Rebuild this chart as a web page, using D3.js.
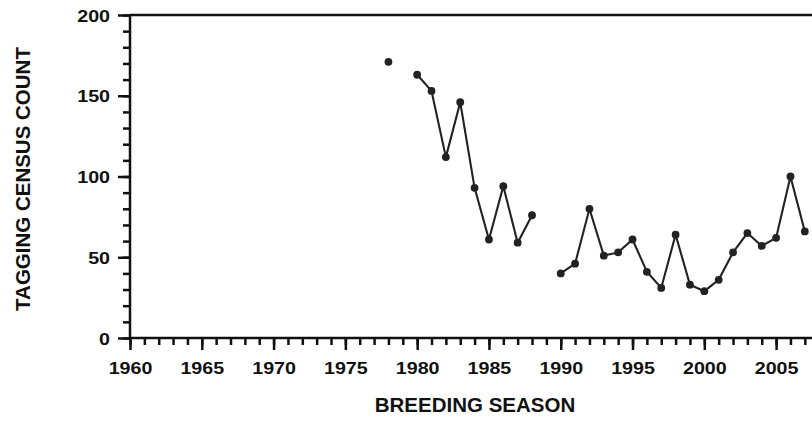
<!DOCTYPE html>
<html>
<head>
<meta charset="utf-8">
<script src="https://cdn.jsdelivr.net/npm/d3@7"></script>
<style>
  body { margin: 0; background: #fff; }
  text { font-family: "Liberation Sans", Arial, sans-serif; font-weight: bold; fill: #111; }
</style>
</head>
<body>
<script>
// breeding seasons and counts (null = no census that year)
var years = [1978, 1979, 1980, 1981, 1982, 1983, 1984, 1985, 1986, 1987, 1988, 1989,
             1990, 1991, 1992, 1993, 1994, 1995, 1996, 1997, 1998, 1999, 2000,
             2001, 2002, 2003, 2004, 2005, 2006, 2007];
var counts = [171, null, 163, 153, 112, 146, 93, 61, 94, 59, 76, null,
              40, 46, 80, 51, 53, 61, 41, 31, 64, 33, 29,
              36, 53, 65, 57, 62, 100, 66];
var xMajorTicks = [1960, 1965, 1970, 1975, 1980, 1985, 1990, 1995, 2000, 2005];
var yMajorTicks = [0, 50, 100, 150, 200];

var w = 812, h = 421;
var plotLeft = 130, plotRight = 812, plotTop = 15, plotBottom = 338;

var data = years.map(function(yr, i) { return { year: yr, value: counts[i] }; });

var x = d3.scaleLinear().domain([1960, 2007.5]).range([plotLeft, plotRight]);
var y = d3.scaleLinear().domain([0, 200]).range([plotBottom, plotTop]);

var svg = d3.select("body").append("svg")
    .attr("width", w)
    .attr("height", h);

var ink = "#111";

// minor ticks
var xMinor = d3.axisBottom(x).tickValues(d3.range(1960, 2008)).tickSize(7).tickFormat("");
var yMinor = d3.axisLeft(y).tickValues(d3.range(0, 201, 10)).tickSize(7).tickFormat("");
// major ticks with labels
var xMajor = d3.axisBottom(x).tickValues(xMajorTicks).tickSize(12).tickFormat(d3.format("d"));
var yMajor = d3.axisLeft(y).tickValues(yMajorTicks).tickSize(12).tickFormat(d3.format("d"));

function styleAxis(g) {
  g.select(".domain").remove();
  g.attr("font-family", null).attr("font-size", null);
  g.selectAll("line").attr("stroke", ink).attr("stroke-width", 2.5);
}

svg.append("g").attr("transform", "translate(0," + plotBottom + ")").call(xMinor).call(styleAxis);
svg.append("g").attr("transform", "translate(" + plotLeft + ",0)").call(yMinor).call(styleAxis);

var gx = svg.append("g").attr("transform", "translate(0," + plotBottom + ")").call(xMajor).call(styleAxis);
gx.selectAll("text")
    .attr("y", 36).attr("dy", null)
    .attr("font-size", 16.8)
    .attr("fill", ink)
    .attr("transform", "scale(1.17,1)");

var gy = svg.append("g").attr("transform", "translate(" + plotLeft + ",0)").call(yMajor).call(styleAxis);
gy.selectAll("text")
    .attr("x", -20 / 1.17).attr("dy", "0.36em")
    .attr("font-size", 16.8)
    .attr("fill", ink)
    .attr("transform", "scale(1.17,1)");

// frame lines
svg.append("line")
    .attr("x1", plotLeft).attr("x2", plotRight).attr("y1", plotBottom).attr("y2", plotBottom)
    .attr("stroke", ink).attr("stroke-width", 2.5);
svg.append("line")
    .attr("x1", plotLeft).attr("x2", plotLeft).attr("y1", plotTop).attr("y2", plotBottom)
    .attr("stroke", ink).attr("stroke-width", 2.5);
svg.append("line")
    .attr("x1", plotLeft).attr("x2", plotRight).attr("y1", plotTop).attr("y2", plotTop)
    .attr("stroke", ink).attr("stroke-width", 2.5);

// series
var line = d3.line()
    .defined(function(d) { return d.value != null; })
    .x(function(d) { return x(d.year); })
    .y(function(d) { return y(d.value); });

svg.append("path")
    .datum(data)
    .attr("d", line)
    .attr("fill", "none")
    .attr("stroke", "#222")
    .attr("stroke-width", 2.1);

svg.selectAll(".dot")
    .data(data.filter(function(d) { return d.value != null; }))
    .enter().append("circle")
    .attr("class", "dot")
    .attr("cx", function(d) { return x(d.year); })
    .attr("cy", function(d) { return y(d.value); })
    .attr("r", 3.9)
    .attr("fill", "#222");

// axis titles
svg.append("text")
    .attr("x", 475).attr("y", 411.5)
    .attr("text-anchor", "middle")
    .attr("font-size", 20.5)
    .text("BREEDING SEASON");

svg.append("text")
    .attr("transform", "translate(29.5,179) rotate(-90)")
    .attr("text-anchor", "middle")
    .attr("font-size", 20.5)
    .text("TAGGING CENSUS COUNT");
</script>
</body>
</html>
